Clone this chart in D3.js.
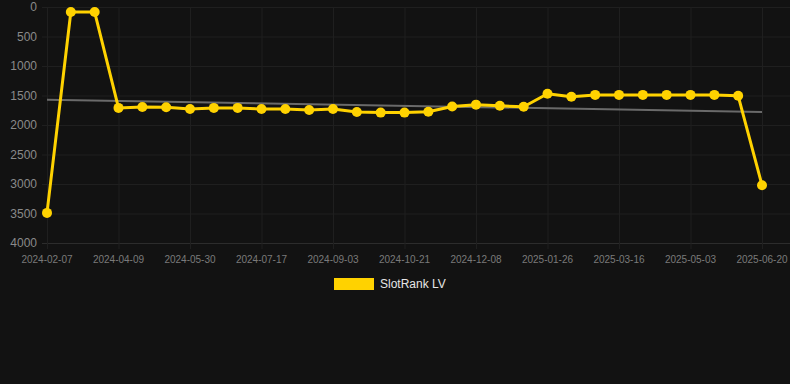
<!DOCTYPE html>
<html>
<head>
<meta charset="utf-8">
<script src="https://cdn.jsdelivr.net/npm/d3@7"></script>
<style>
  html, body { margin: 0; padding: 0; background: #121212; }
  #svg-container { width: 790px; height: 384px; }
  text { font-family: "Liberation Sans", Arial, Helvetica, sans-serif; }
</style>
</head>
<body>
<div id="svg-container"></div>
<script>
// data
const dates = [
  "2024-02-07", "2024-02-28", "2024-03-20", "2024-04-09", "2024-04-26", "2024-05-13",
  "2024-05-30", "2024-06-15", "2024-07-01", "2024-07-17", "2024-08-02", "2024-08-18",
  "2024-09-03", "2024-09-19", "2024-10-05", "2024-10-21", "2024-11-06", "2024-11-22",
  "2024-12-08", "2024-12-24", "2025-01-09", "2025-01-26", "2025-02-11", "2025-02-28",
  "2025-03-16", "2025-04-01", "2025-04-17", "2025-05-03", "2025-05-19", "2025-06-04",
  "2025-06-20"
];
const rank = [
  3490, 85, 85, 1710, 1695, 1700, 1730, 1710, 1710, 1730, 1730, 1745,
  1730, 1780, 1790, 1790, 1775, 1685, 1655, 1675, 1690, 1470, 1520, 1490,
  1490, 1490, 1490, 1490, 1490, 1505, 3020
];
const trend = [1570, 1780]; // start / end of the grey trend line
const yTicks = [0, 500, 1000, 1500, 2000, 2500, 3000, 3500, 4000];
const seriesName = "SlotRank LV";

// svg
const width = 790;
const height = 384;
const margin = { top: 7, right: 28, bottom: 141, left: 47 };

const svg = d3.select("#svg-container").append("svg")
  .attr("width", width)
  .attr("height", height);

svg.append("rect").attr("width", width).attr("height", height).attr("fill", "#121212");

// scale
const xScale = d3.scalePoint()
  .domain(dates)
  .range([margin.left, width - margin.right]);
const yScale = d3.scaleLinear()
  .domain([0, 4000])
  .range([margin.top, height - margin.bottom]);

const shown = dates.filter((d, i) => i % 3 === 0);

// grid
svg.append("g")
  .selectAll("line")
  .data(yTicks)
  .join("line")
  .attr("x1", margin.left - 5)
  .attr("x2", width)
  .attr("y1", (d) => yScale(d) + 0.5)
  .attr("y2", (d) => yScale(d) + 0.5)
  .attr("stroke", (d) => (d === 4000 ? "#2c2c2c" : "#1f1f1f"))
  .attr("stroke-width", 1);

svg.append("g")
  .selectAll("line")
  .data(shown)
  .join("line")
  .attr("x1", (d) => xScale(d) + 0.5)
  .attr("x2", (d) => xScale(d) + 0.5)
  .attr("y1", margin.top)
  .attr("y2", yScale(4000) + 6)
  .attr("stroke", "#1f1f1f")
  .attr("stroke-width", 1);

// axis labels
svg.append("g")
  .selectAll("text")
  .data(yTicks)
  .join("text")
  .attr("x", 37)
  .attr("y", (d) => yScale(d))
  .attr("dy", "0.35em")
  .attr("text-anchor", "end")
  .attr("fill", "#8a8a8a")
  .attr("font-size", 12)
  .text((d) => d);

svg.append("g")
  .selectAll("text")
  .data(shown)
  .join("text")
  .attr("x", (d) => xScale(d))
  .attr("y", 263)
  .attr("text-anchor", "middle")
  .attr("fill", "#7a7a7a")
  .attr("font-size", 10)
  .text((d) => d);

// trend
svg.append("line")
  .attr("x1", xScale(dates[0]))
  .attr("x2", xScale(dates[dates.length - 1]))
  .attr("y1", yScale(trend[0]))
  .attr("y2", yScale(trend[1]))
  .attr("stroke", "#6a6a6a")
  .attr("stroke-width", 2);

// line
const line = d3.line()
  .x((d, i) => xScale(dates[i]))
  .y((d) => yScale(d));

svg.append("path")
  .datum(rank)
  .attr("d", line)
  .attr("fill", "none")
  .attr("stroke", "#ffd200")
  .attr("stroke-width", 3)
  .attr("stroke-linejoin", "round");

svg.append("g")
  .selectAll("circle")
  .data(rank)
  .join("circle")
  .attr("cx", (d, i) => xScale(dates[i]))
  .attr("cy", (d) => yScale(d))
  .attr("r", 5)
  .attr("fill", "#ffd200");

// legend
svg.append("rect")
  .attr("x", 334)
  .attr("y", 278)
  .attr("width", 40)
  .attr("height", 12)
  .attr("fill", "#ffd200");

svg.append("text")
  .attr("x", 380)
  .attr("y", 284)
  .attr("dy", "0.35em")
  .attr("fill", "#e6e6e6")
  .attr("font-size", 12)
  .text(seriesName);
</script>
</body>
</html>
